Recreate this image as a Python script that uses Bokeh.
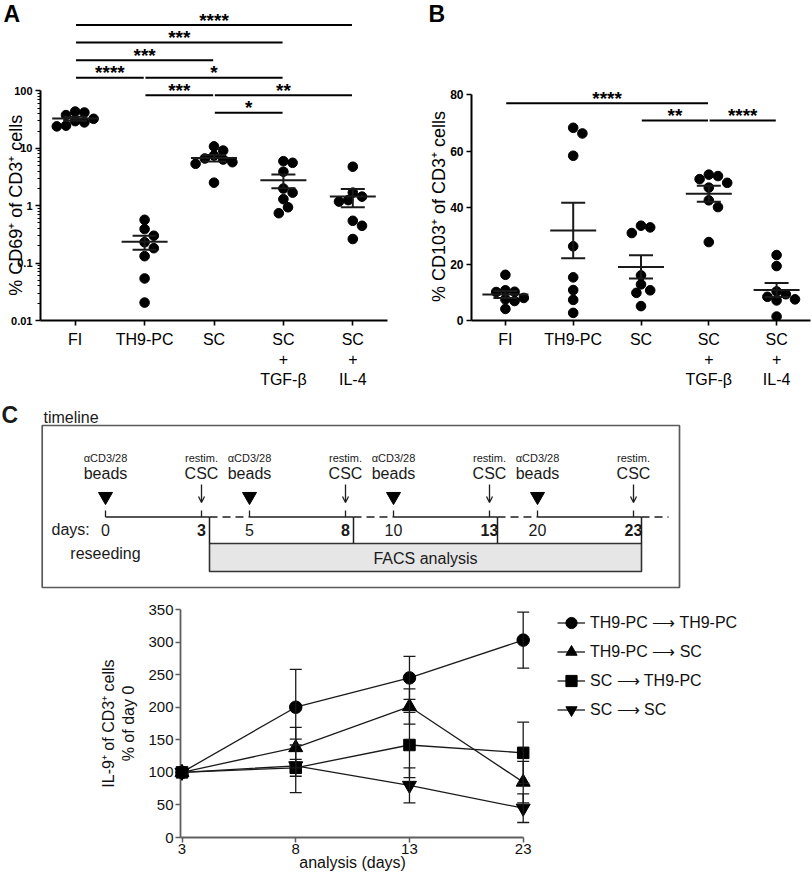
import math
import numpy as np
from bokeh.plotting import figure
from bokeh.layouts import column, row
from bokeh.models import (Range1d, FixedTicker, ColumnDataSource, Whisker, TeeHead,
                          Arrow, OpenHead, Legend, LegendItem)
from bokeh.core.properties import value
from bokeh.embed import file_html
from bokeh.resources import INLINE

FONT = "Liberation Sans"

# ---------------- data ----------------
groups = ["FI", "TH9-PC", "SC", "SC\n+\nTGF-β", "SC\n+\nIL-4"]

cd69_fi = [43.7, 28.3, 32.7, 24.1, 24.8, 37.9, 42.1, 29.8]
cd69_th9 = [0.568, 0.392, 0.300, 0.231, 0.182, 0.132, 0.054, 0.0205]
cd69_sc = [10.8, 9.14, 6.65, 7.49, 5.73, 5.38, 6.38, 2.52]
cd69_tgf = [5.97, 5.60, 3.91, 1.69, 1.99, 1.30, 0.94, 0.74]
cd69_il4 = [4.78, 1.44, 1.69, 1.18, 1.25, 0.546, 0.447, 0.263]

cd103_fi = [16.2, 10.2, 10.1, 10.7, 7.5, 6.9, 8.0, 4.1]
cd103_th9 = [66.3, 68.3, 58.4, 26.3, 15.3, 10.8, 7.3, 2.7]
cd103_sc = [33.0, 31.0, 33.6, 16.0, 10.7, 12.8, 9.8, 5.1]
cd103_tgf = [50.1, 51.7, 51.2, 47.1, 48.8, 42.6, 40.2, 27.8]
cd103_il4 = [23.2, 19.3, 9.3, 10.3, 8.4, 7.5, 7.1, 1.4]

# significance comparisons: (group i, group j, label, stacking level)
sig_a = [(0, 4, "****", 5), (0, 3, "***", 4), (0, 2, "***", 3), (0, 1, "****", 2),
         (1, 3, "*", 2), (1, 2, "***", 1), (2, 4, "**", 1), (2, 3, "*", 0)]
sig_b = [(0, 3, "****", 1), (2, 3, "**", 0), (3, 4, "****", 0)]

analysis_days = ["3", "8", "13", "23"]
il9_th9_th9 = [100, 200, 245, 303]
il9_th9_th9_sem = [0, 58, 33, 43]
il9_th9_sc = [100, 138, 201, 85]
il9_th9_sc_sem = [0, 31, 27, 32]
il9_sc_th9 = [100, 107, 142, 130]
il9_sc_th9_sem = [0, 13, 50, 47]
il9_sc_sc = [100, 110, 80, 45]
il9_sc_sc_sem = [0, 41, 27, 22]

bead_days = [0, 5, 10, 20]
csc_days = [3, 8, 13, 23]

# ---------------- helpers ----------------
def swarm(ypx, d):
    order = np.argsort(-np.asarray(ypx))
    placed, xs = [], [0.0] * len(ypx)
    cands = [0.0]
    for k in range(1, 14):
        cands += [k * d * 0.5, -k * d * 0.5]
    for i in order:
        y = ypx[i]
        for c in cands:
            if all((c - px) ** 2 + (y - py) ** 2 >= d * d * 0.92 for px, py in placed):
                xs[i] = c
                placed.append((c, y))
                break
    return xs


def mean_sem(v):
    a = np.asarray(v, dtype=float)
    return a.mean(), a.std(ddof=1) / math.sqrt(len(a))


def base_fig(**kw):
    p = figure(title=None, output_backend="svg", toolbar_location=None,
               sizing_mode="fixed", **kw)
    p.grid.visible = False
    p.outline_line_color = None
    return p


def style_dot_axes(p, ylab_size="11px"):
    for ax in p.axis:
        ax.axis_line_width = 2
        ax.axis_line_color = "black"
        ax.major_tick_line_width = 1.6
        ax.major_tick_line_color = "black"
        ax.major_tick_out = 5
        ax.major_tick_in = 0
        ax.minor_tick_in = 0
        ax.major_label_text_font = FONT
        ax.major_label_text_color = "black"
    p.yaxis.major_label_text_font_style = "bold"
    p.yaxis.major_label_text_font_size = ylab_size
    p.yaxis.major_label_standoff = 3
    p.xaxis.major_label_text_font_size = "16px"
    p.xaxis.major_label_standoff = 5
    p.xaxis.minor_tick_line_color = None
    p.xaxis.ticker = FixedTicker(ticks=[i + 0.5 for i in range(len(groups))])
    p.xaxis.major_label_overrides = {i + 0.5: g for i, g in enumerate(groups)}


def dot_panel(p, data, ypx_fn, pxx, ytrans_sig, sig, text_font_size="19px"):
    xs, ys = [], []
    for i, vals in enumerate(data):
        offs = swarm([ypx_fn(v) for v in vals], 9.2)
        xs += [i + 0.5 + o / pxx for o in offs]
        ys += list(vals)
    p.scatter(xs, ys, size=9.6, color="black")
    ms = [mean_sem(v) for v in data]
    cx = [i + 0.5 for i in range(len(data))]
    p.scatter(cx, [m for m, s in ms], marker="dash", size=46, line_width=2,
              line_color="#1a1a1a", level="annotation")
    src = ColumnDataSource(dict(x=cx, lo=[m - s for m, s in ms], hi=[m + s for m, s in ms]))
    p.add_layout(Whisker(source=src, base="x", lower="lo", upper="hi",
                         line_width=2, line_color="#1a1a1a", level="annotation",
                         upper_head=TeeHead(size=24, line_width=2, line_color="#1a1a1a"),
                         lower_head=TeeHead(size=24, line_width=2, line_color="#1a1a1a")))
    gap = 0.012
    x0 = [i + 0.5 + gap for i, j, t, l in sig]
    x1 = [j + 0.5 - gap for i, j, t, l in sig]
    yy = [ytrans_sig(l) for i, j, t, l in sig]
    p.segment(x0, yy, x1, yy, line_width=2, color="black")
    p.text([(a + b) / 2 for a, b in zip(x0, x1)], yy, text=[t for i, j, t, l in sig],
           text_align="center", text_baseline="alphabetic", y_offset=-5,
           text_font=value(FONT), text_font_style="bold", text_font_size=text_font_size,
           text_color="black")


# ---------------- Panel A ----------------
A_W, A_H, A_L, A_R, A_T, A_B = 400, 396, 40, 13, 0, 74
A_FW = A_W - A_L - A_R
A_FH = A_H - A_T - A_B
A_DEC = 57.75
A_LOG_TOP = -2 + A_FH / A_DEC
A_PXX = A_FW / 5
pA = base_fig(width=A_W, height=A_H, y_axis_type="log",
              x_range=Range1d(0, 5), y_range=Range1d(0.01, 10 ** A_LOG_TOP),
              min_border_left=A_L, min_border_right=A_R, min_border_top=A_T,
              min_border_bottom=A_B)
style_dot_axes(pA)
pA.yaxis.ticker = FixedTicker(ticks=[0.01, 0.1, 1, 10, 100],
                              minor_ticks=[k * 10.0 ** e for e in range(-2, 2) for k in range(2, 10)])
pA.yaxis.major_label_overrides = {0.01: "0.01", 0.1: "0.1", 1: "1", 10: "10", 100: "100"}
pA.yaxis.bounds = (0.01, 100)
pA.yaxis.minor_tick_out = 3
pA.yaxis.minor_tick_line_color = "black"
pA.yaxis.minor_tick_line_width = 1
dot_panel(pA, [cd69_fi, cd69_th9, cd69_sc, cd69_tgf, cd69_il4],
          lambda v: math.log10(v) * A_DEC, A_PXX,
          lambda l: 10 ** (1.619 + 0.3058 * l), sig_a)
pA.text([(15 - A_L) / A_PXX], [10 ** (2 - (206 - 91) / A_DEC)], text=["% CD69⁺ of CD3⁺ cells"],
        angle=math.pi / 2, text_align="center", text_baseline="middle",
        text_font=value(FONT), text_font_size="18px", text_color="black", level="overlay")
pA.text([(3 - A_L) / A_PXX], [10 ** A_LOG_TOP], text=["A"], text_align="left",
        text_baseline="top", text_font=value(FONT), text_font_style="bold",
        text_font_size="23px", text_color="black", level="overlay")

# ---------------- Panel B ----------------
B_W, B_H, B_L, B_R, B_T, B_B = 412, 396, 71, 2, 0, 76
B_FW = B_W - B_L - B_R
B_FH = B_H - B_T - B_B
B_PXU = (320 - 94.3) / 80
B_PXX = B_FW / 5
pB = base_fig(width=B_W, height=B_H, x_range=Range1d(0, 5), y_range=Range1d(0, B_FH / B_PXU),
              min_border_left=B_L, min_border_right=B_R, min_border_top=B_T,
              min_border_bottom=B_B)
style_dot_axes(pB, "12px")
pB.yaxis.ticker = FixedTicker(ticks=[0, 20, 40, 60, 80])
pB.yaxis.bounds = (0, 80)
pB.yaxis.minor_tick_line_color = None
dot_panel(pB, [cd103_fi, cd103_th9, cd103_sc, cd103_tgf, cd103_il4],
          lambda v: v * B_PXU, B_PXX, lambda l: 70.9 + 6.1 * l, sig_b)
pB.text([(38 - B_L) / B_PXX], [(320 - 206) / B_PXU], text=["% CD103⁺ of CD3⁺ cells"],
        angle=math.pi / 2, text_align="center", text_baseline="middle",
        text_font=value(FONT), text_font_size="18px", text_color="black", level="overlay")
pB.text([(28 - B_L) / B_PXX], [B_FH / B_PXU], text=["B"], text_align="left",
        text_baseline="top", text_font=value(FONT), text_font_style="bold",
        text_font_size="23px", text_color="black", level="overlay")

# ---------------- Panel C: timeline ----------------
T_W, T_H, T_TOP = 700, 198, 396
SLOT, DAY0 = 32.0, 105.0


def sx(px):
    return (px - DAY0) / SLOT


def ty(py):
    return py - T_TOP


pT = base_fig(width=T_W, height=T_H, x_range=Range1d(sx(0), sx(T_W)),
              y_range=Range1d(T_H, 0), min_border_left=0, min_border_right=0,
              min_border_top=0, min_border_bottom=0)
pT.axis.visible = False
stage = list(range(len(bead_days)))
bead_x = [4.5 * k for k in stage]
csc_x = [b + 3 for b in bead_x]
end_x = [c + 0.25 for c in csc_x]
LINE_Y = ty(516.5)
INK = "#1e1e1e"

pT.quad(left=[sx(41.7)], right=[sx(679)], top=[ty(425)], bottom=[ty(587)],
        fill_color=None, line_color="#5a5a5a", line_width=1.7)
pT.quad(left=[end_x[0]], right=[end_x[-1]], top=[ty(543)], bottom=[ty(571)],
        fill_color="#e6e6e6", line_color="#333333", line_width=1.6)
pT.segment(bead_x, [LINE_Y] * 4, end_x, [LINE_Y] * 4, line_color=INK, line_width=1.5)
pT.segment(end_x, [LINE_Y] * 4, bead_x[1:] + [sx(668)], [LINE_Y] * 4,
           line_color=INK, line_width=1.5, line_dash="8 5")
pT.segment(end_x, [LINE_Y] * 4, end_x, [ty(543)] * 4, line_color=INK, line_width=1.5)
tick_x = bead_x + csc_x
pT.segment(tick_x, [ty(510)] * 8, tick_x, [LINE_Y] * 8, line_color=INK, line_width=1.3)
pT.scatter(bead_x, [ty(496)] * 4, marker="inverted_triangle", size=14, color="black")
pT.add_layout(Arrow(source=ColumnDataSource(dict(x=csc_x, y0=[ty(484)] * 4, y1=[ty(502)] * 4)),
                    x_start="x", y_start="y0", x_end="x", y_end="y1",
                    line_width=1.3, line_color=INK,
                    end=OpenHead(size=6, line_width=1.3, line_color=INK)))


def ttext(x, y, t, size="16px", style="normal", align="center", baseline="middle"):
    pT.text(x, y, text=t, text_align=align, text_baseline=baseline,
            text_font=value(FONT), text_font_size=size, text_font_style=style,
            text_color="#1a1a1a")


ttext(bead_x, [ty(457)] * 4, ["αCD3/28"] * 4, size="11px")
ttext(bead_x, [ty(473)] * 4, ["beads"] * 4)
ttext(csc_x, [ty(457)] * 4, ["restim."] * 4, size="11px")
ttext(csc_x, [ty(473)] * 4, ["CSC"] * 4)
ttext(bead_x, [ty(529)] * 4, [str(d) for d in bead_days])
ttext(csc_x, [ty(529)] * 4, [str(d) for d in csc_days], style="bold")
ttext([sx(51)], [ty(529)], ["days:"], align="left")
ttext([0.0], [ty(553)], ["reseeding"])
ttext([(end_x[0] + end_x[-1]) / 2], [ty(557.5)], ["FACS analysis"])
ttext([sx(43)], [ty(417)], ["timeline"], align="left")
ttext([sx(1)], [ty(401)], ["C"], size="23px", style="bold", align="left", baseline="top")

# ---------------- Panel C: IL-9 chart ----------------
C_W, C_H = 812, 279
C_L, C_R, C_T, C_B = 180, 7, 15, 36
C_FW = C_W - C_L - C_R
C_FH = C_H - C_T - C_B
C_PXX = (522.7 - 181.5) / 3
C_PXY = C_FH / 350
cx0 = -1.5 / C_PXX
pC = base_fig(width=C_W, height=C_H, x_range=Range1d(cx0, cx0 + C_FW / C_PXX),
              y_range=Range1d(0, 350), min_border_left=C_L, min_border_right=C_R,
              min_border_top=C_T, min_border_bottom=C_B)
for ax in pC.axis:
    ax.axis_line_color = "#5e5e5e"
    ax.axis_line_width = 1.8
    ax.major_tick_line_color = "#5e5e5e"
    ax.major_tick_line_width = 1.5
    ax.major_tick_out = 5
    ax.major_tick_in = 0
    ax.minor_tick_line_color = None
    ax.major_label_text_font = FONT
    ax.major_label_text_font_size = "15px"
    ax.major_label_text_color = "#111111"
    ax.axis_label_text_font = FONT
    ax.axis_label_text_font_style = "normal"
    ax.axis_label_text_color = "#111111"
pC.yaxis.ticker = FixedTicker(ticks=list(range(0, 351, 50)))
pC.yaxis.bounds = (0, 350)
pC.yaxis.major_label_standoff = 2
pC.yaxis.axis_label = "IL-9⁺ of CD3⁺ cells\n% of day 0"
pC.yaxis.axis_label_text_font_size = "16px"
pC.yaxis.axis_label_standoff = 8
xi = list(range(len(analysis_days)))
pC.xaxis.ticker = FixedTicker(ticks=xi)
pC.xaxis.major_label_overrides = {i: d for i, d in enumerate(analysis_days)}
pC.xaxis.bounds = (cx0, 3)
pC.xaxis.major_label_standoff = 1
pC.text([1.5], [-24.5 / C_PXY], text=["analysis (days)"], text_align="center",
        text_baseline="middle", text_font=value(FONT), text_font_size="16px",
        text_color="#111111", level="overlay")

series = [
    ("TH9-PC ⟶ TH9-PC", "circle", 12.5, il9_th9_th9, il9_th9_th9_sem),
    ("TH9-PC ⟶ SC", "triangle", 14, il9_th9_sc, il9_th9_sc_sem),
    ("SC ⟶ TH9-PC", "square", 11.5, il9_sc_th9, il9_sc_th9_sem),
    ("SC ⟶ SC", "inverted_triangle", 14, il9_sc_sc, il9_sc_sc_sem),
]
items = []
for label, marker, size, vals, sems in series:
    keep = [i for i in xi if sems[i] > 0]
    src = ColumnDataSource(dict(x=keep, lo=[vals[i] - sems[i] for i in keep],
                                hi=[vals[i] + sems[i] for i in keep]))
    pC.add_layout(Whisker(source=src, base="x", lower="lo", upper="hi",
                          line_width=1.3, line_color="#1a1a1a", level="overlay",
                          upper_head=TeeHead(size=12, line_width=1.3, line_color="#1a1a1a"),
                          lower_head=TeeHead(size=12, line_width=1.3, line_color="#1a1a1a")))
    ln = pC.line(xi, vals, line_color="#1a1a1a", line_width=1.3, level="overlay")
    sc = pC.scatter(xi, vals, marker=marker, size=size, color="black", level="overlay")
    items.append(LegendItem(label=label, renderers=[ln, sc]))

legend = Legend(items=items, location=(377, 113), glyph_width=28, glyph_height=29,
                label_height=29, spacing=0, margin=0, padding=2, label_standoff=5,
                label_text_font=FONT, label_text_font_size="16px",
                label_text_color="#111111", border_line_color=None,
                background_fill_alpha=0)
pC.add_layout(legend, "center")

layout = column(row(pA, pB), row(pT), row(pC))
open("out.html", "w").write(file_html(layout, INLINE))
